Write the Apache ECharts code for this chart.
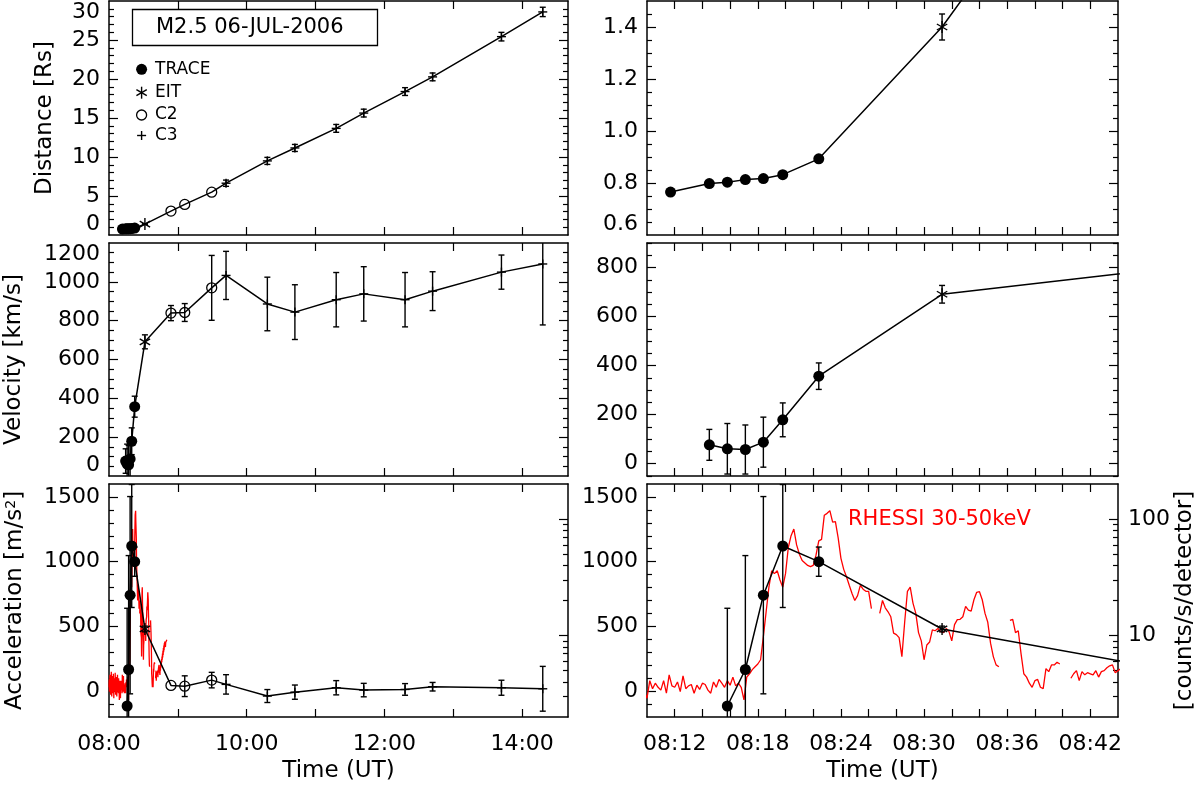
<!DOCTYPE html>
<html>
<head>
<meta charset="utf-8">
<title>M2.5 06-JUL-2006 CME kinematics</title>
<script src="https://cdn.jsdelivr.net/npm/echarts@6.0.0/dist/echarts.min.js"></script>
<style>
  html, body { margin: 0; padding: 0; background: #fff; }
  #chart { width: 1200px; height: 786px; }
</style>
</head>
<body>
<div id="chart"></div>
<script>
// all times are minutes after 08:00 UT

// TRACE
var traceT = [11.7, 14.5, 15.8, 17.1, 18.4, 19.8, 22.4];
var traceDist = [0.765, 0.798, 0.803, 0.813, 0.817, 0.832, 0.893];
var traceVelT = [14.5, 15.8, 17.1, 18.4, 19.8, 22.4];
var traceVel = [77, 61, 58, 88, 179, 357];
var traceVelErr = [63, 103, 100, 102, 69, 54];
var traceAccT = [15.8, 17.1, 18.4, 19.8, 22.4];
var traceAcc = [-115, 167, 741, 1121, 1000];
var traceAccErr = [755, 880, 762, 475, 113];

// EIT
var eitT = [31.3];
var eitDist = [1.40];
var eitDistErr = [0.05];
var eitVel = [691];
var eitVelErr = [36];
var eitAcc = [480];
var eitAccErr = [22];

// LASCO C2
var c2T = [54, 66, 89.5];
var c2Dist = [3.07, 3.92, 5.49];
var c2Vel = [839, 842, 969];
var c2VelErr = [39, 46, 167];
var c2Acc = [44, 38, 85];
var c2AccErr = [0, 80, 60];

// LASCO C3
var c3T = [102, 138, 162, 198, 222, 258, 282, 342, 378];
var c3Dist = [6.64, 9.5, 11.16, 13.67, 15.63, 18.39, 20.27, 25.43, 28.6];
var c3DistErr = [0.4, 0.45, 0.45, 0.5, 0.5, 0.5, 0.5, 0.55, 0.6];
var c3Vel = [1033, 886, 844, 908, 938, 908, 952, 1050, 1092];
var c3VelErr = [124, 138, 141, 140, 140, 140, 100, 88, 314];
var c3Acc = [52, -38, -8, 26, 8, 13, 34, 26, 18];
var c3AccErr = [75, 50, 55, 55, 52, 45, 33, 58, 173];

// RHESSI 30-50 keV, counts/s/detector, one sample every 0.2 min from 08:00
var rhessiStart = 0;
var rhessiStep = 0.2;
var rhessiCounts = [
  3.6, 4.2, 3.3, 3.9, 4.6, 3.4, 3.8, 3.1, 4.4, 3.7,      // 08:00
  4.9, 3.5, 3.0, 4.1, 3.6, 4.5, 3.2, 3.9, 3.4, 4.7,      // 08:02
  3.8, 2.9, 4.0, 3.5, 4.3, 3.3, 3.7, 4.8, 3.6, 3.1,      // 08:04
  4.2, 3.8, 3.4, 4.4, 3.0, 3.9, 3.5, 4.6, 3.3, 4.0,      // 08:06
  3.7, 3.2, 4.3, 3.6, 3.9, 2.8, 4.1, 3.5, 3.8, 3.3,      // 08:08
  2.9, 4.1, 3.5, 3.9, 3.6, 3.4, 4.1, 3.2, 4.6, 3.7,      // 08:10
  3.6, 4.0, 3.3, 4.5, 3.5, 3.7, 3.8, 3.2, 3.75, 3.45,    // 08:12
  3.9, 3.8, 3.4, 3.2, 4.0, 3.6, 4.2, 3.9, 3.6, 4.1,      // 08:14
  3.75, 4.4, 3.7, 3.9, 3.6, 2.8, 4.4, 4.7, 5.1, 5.4,     // 08:16
  5.7, 6.2, 9.8, 16, 26, 36, 34, 36, 30, 26,             // 08:18
  34, 57, 72, 82, 60, 50, 44, 42, 40, 39,                // 08:20
  40, 49, 65, 67, 108, 112, 118, 94, 95, 69,             // 08:22
  46, 37, 32, 27, 23, 20, 22, 27, 25, 24,                // 08:24
  24, 17, null, null, 15.5, 20, 17.3, 16, 14.5, 10.5,    // 08:26
  10.2, 9.6, 6.6, 13, 24, 26, 19, 15.6, 10.6, 9,         // 08:28
  6.2, 8.3, 8.8, 11.2, 11, 11.5, 10.8, 10.6, 11.5, 10.8, // 08:30
  9.0, 12.4, 13.7, 13.8, 14.5, 17.8, 16.5, 16.2, 20.3, 23.5, // 08:32
  23.8, 20.3, 15.5, 13, 8.6, 6.6, 5.6, 5.4, null, null,  // 08:34
  null, 13.5, 13.8, 10.6, 11, 7, 4.7, 4.4, 3.9, 3.6,     // 08:36
  4.1, 4.2, 3.6, 3.5, 5.2, 4.9, 5.6, 5.6, 5.9, 5.7,      // 08:38
  null, null, null, 4.3, 4.7, 5.0, 4.1, 4.9, 4.6, 4.8,   // 08:40
  4.7, 4.6, 5.0, 4.4, 4.9, 5.0, 5.3, 5.5, 5.6, 4.8,      // 08:42
  5.0, 5.2, 4.6, 5.4, 5.0, 5.8, 5.3, 6.0, 5.6, 6.3,      // 08:44
  5.9, 6.6, 6.2, 7.0, 6.5, 7.4, 6.8, 7.8, 7.2, 8.2,      // 08:46
  7.5, 8.6, 7.9, 8.9, 8.3, 8.8, 8.0, 8.7, 8.5, 9.0,      // 08:48
  8.4, 8.8, 9.2                                          // 08:50
];

// tick labels
var leftTimeLabels = [0, 120, 240, 360];
var rightTimeLabels = [12, 18, 24, 30, 36, 42];
var distLabels = [0, 5, 10, 15, 20, 25, 30];
var distZoomLabels = [0.6, 0.8, 1.0, 1.2, 1.4];
var velLabels = [0, 200, 400, 600, 800, 1000, 1200];
var velZoomLabels = [0, 200, 400, 600, 800];
var accLabels = [0, 500, 1000, 1500];
var countLabels = [10, 100];

var FONT = 'DejaVu Sans';

function steps(a, b, d) {
  var out = [];
  for (var v = a; v <= b + 1e-9; v += d) out.push(Math.round(v * 1e6) / 1e6);
  return out;
}
function without(arr, skip) {
  return arr.filter(function (v) {
    return !skip.some(function (s) { return Math.abs(s - v) < 1e-9; });
  });
}
function hhmm(v) {
  var h = 8 + Math.floor(v / 60 + 1e-9);
  var m = Math.round(v - (h - 8) * 60);
  return (h < 10 ? '0' : '') + h + ':' + (m < 10 ? '0' : '') + m;
}
function pts(T, V, E, kind) {
  return T.map(function (t, i) { return [t, V[i], E ? E[i] : 0, kind]; });
}

var distPts = [].concat(pts(traceT, traceDist, null, 0), pts(eitT, eitDist, eitDistErr, 1),
  pts(c2T, c2Dist, null, 2), pts(c3T, c3Dist, c3DistErr, 3));
var velPts = [].concat(pts(traceVelT, traceVel, traceVelErr, 0), pts(eitT, eitVel, eitVelErr, 1),
  pts(c2T, c2Vel, c2VelErr, 2), pts(c3T, c3Vel, c3VelErr, 3));
var accPts = [].concat(pts(traceAccT, traceAcc, traceAccErr, 0), pts(eitT, eitAcc, eitAccErr, 1),
  pts(c2T, c2Acc, c2AccErr, 2), pts(c3T, c3Acc, c3AccErr, 3));
var rhessi = rhessiCounts.map(function (c, i) { return [rhessiStart + i * rhessiStep, c]; });

var leftTime = { range: [0, 400], ticks: steps(60, 360, 60), labels: leftTimeLabels };
var rightTime = { range: [10, 44], ticks: steps(12, 42, 2), labels: rightTimeLabels };
var logRange = [Math.log10(2), Math.log10(200)];
var logMajor = [1, 2];
var logMinor = [3, 4, 5, 6, 7, 8, 9, 20, 30, 40, 50, 60, 70, 80, 90].map(Math.log10);

var panels = [
  { col: 0, row: 0, y: [0, 30], major: steps(5, 25, 5), minor: without(steps(1, 29, 1), steps(5, 25, 5)),
    labels: distLabels, fmt: function (v) { return String(v); }, name: 'Distance [Rs]', gap: 52,
    pts: distPts, alignMin: true, alignMax: true },
  { col: 1, row: 0, y: [0.6, 1.5], major: [0.8, 1.0, 1.2, 1.4], minor: without(steps(0.65, 1.45, 0.05), [0.8, 1.0, 1.2, 1.4]),
    labels: distZoomLabels, fmt: function (v) { return v.toFixed(1); }, pts: distPts, alignMin: true },
  { col: 0, row: 1, y: [0, 1200], major: steps(200, 1000, 200), minor: without(steps(50, 1150, 50), steps(200, 1000, 200)),
    labels: velLabels, fmt: function (v) { return String(v); }, name: 'Velocity [km/s]', gap: 83,
    pts: velPts, alignMin: true, alignMax: true },
  { col: 1, row: 1, y: [-50, 900], major: steps(0, 800, 200), minor: without(steps(-50, 900, 50), steps(0, 800, 200)),
    labels: velZoomLabels, fmt: function (v) { return String(v); }, pts: velPts },
  { col: 0, row: 2, y: [-200, 1600], major: steps(0, 1500, 500), minor: without(steps(-100, 1500, 100), steps(0, 1500, 500)),
    labels: accLabels, fmt: function (v) { return String(v); }, name: 'Acceleration [m/s{sup|2}]', gap: 82,
    pts: accPts, rhessi: true },
  { col: 1, row: 2, y: [-200, 1600], major: steps(0, 1500, 500), minor: without(steps(-100, 1500, 100), steps(0, 1500, 500)),
    labels: accLabels, fmt: function (v) { return String(v); }, pts: accPts, rhessi: true, countLabels: true }
];

var cols = [{ left: 109, width: 459 }, { left: 647, width: 471 }];
var rows = [{ top: 1, height: 234 }, { top: 243, height: 233 }, { top: 484, height: 233 }];

var black = { color: '#000', width: 1.5 };

function tickAxis(g, pos, range, ticks, len, line) {
  return {
    type: 'value', gridIndex: g, position: pos, min: range[0], max: range[1],
    axisLine: { show: line, onZero: false, lineStyle: black },
    axisTick: { show: true, inside: true, length: len, customValues: ticks, lineStyle: { color: '#000', width: 1.2 } },
    axisLabel: { show: false },
    splitLine: { show: false }
  };
}

function xAx(g, pos, time, labels) {
  var ax = tickAxis(g, pos, time.range, time.ticks, 8, true);
  if (labels) {
    ax.axisLabel = { show: true, customValues: time.labels, formatter: hhmm, margin: 16,
      fontSize: 22, fontFamily: FONT, color: '#000' };
    ax.name = 'Time (UT)';
    ax.nameLocation = 'middle';
    ax.nameGap = 43;
    ax.nameTextStyle = { fontSize: 23, fontFamily: FONT, color: '#000' };
  }
  return ax;
}

function mainY(g, p) {
  var ax = tickAxis(g, 'left', p.y, p.major, 9, true);
  ax.axisLabel = { show: true, customValues: p.labels, formatter: p.fmt, margin: 9,
    fontSize: 22, fontFamily: FONT, color: '#000' };
  if (p.alignMin) ax.axisLabel.verticalAlignMinLabel = 'bottom';
  if (p.alignMax) ax.axisLabel.verticalAlignMaxLabel = 'top';
  if (p.name) {
    ax.name = p.name;
    ax.nameLocation = 'middle';
    ax.nameRotate = 90;
    ax.nameGap = p.gap;
    ax.nameTextStyle = { fontSize: 23, fontFamily: FONT, color: '#000',
      rich: { sup: { fontSize: 14, fontFamily: FONT, color: '#000', verticalAlign: 'top' } } };
  }
  return ax;
}

function countAxis(g, labels) {
  var ax = {
    type: 'log', logBase: 10, gridIndex: g, position: 'right', min: 2, max: 200,
    axisLine: { show: false, onZero: false },
    axisTick: { show: false },
    splitLine: { show: false },
    axisLabel: { show: labels, margin: 10, fontSize: 22, fontFamily: FONT, color: '#000',
      showMinLabel: false, showMaxLabel: false,
      formatter: function (v) { return countLabels.indexOf(Math.round(v)) >= 0 ? String(Math.round(v)) : ''; } }
  };
  if (labels) {
    ax.name = '[counts/s/detector]';
    ax.nameLocation = 'middle';
    ax.nameRotate = 90;
    ax.nameGap = 56;
    ax.nameTextStyle = { fontSize: 23, fontFamily: FONT, color: '#000' };
  }
  return ax;
}

function symbolShapes(k, x, y) {
  var s = { stroke: '#000', lineWidth: 1.4 };
  function seg(x1, y1, x2, y2) { return { type: 'line', shape: { x1: x1, y1: y1, x2: x2, y2: y2 }, style: s }; }
  if (k === 0) return [{ type: 'circle', shape: { cx: x, cy: y, r: 5.5 }, style: { fill: '#000' } }];
  if (k === 2) return [{ type: 'circle', shape: { cx: x, cy: y, r: 5 }, style: { fill: 'none', stroke: '#000', lineWidth: 1.3 } }];
  if (k === 1) return [seg(x, y - 6, x, y + 6), seg(x - 5.2, y - 3, x + 5.2, y + 3), seg(x - 5.2, y + 3, x + 5.2, y - 3)];
  return [seg(x - 4.5, y, x + 4.5, y), seg(x, y - 4.5, x, y + 4.5)];
}

function renderPoint(params, api) {
  var t = api.value(0), v = api.value(1), e = api.value(2), k = api.value(3);
  var c = api.coord([t, v]);
  var s = { stroke: '#000', lineWidth: 1.4 };
  var kids = [];
  if (e > 0) {
    var hi = api.coord([t, v + e])[1], lo = api.coord([t, v - e])[1];
    kids.push({ type: 'line', shape: { x1: c[0], y1: hi, x2: c[0], y2: lo }, style: s });
    kids.push({ type: 'line', shape: { x1: c[0] - 3, y1: hi, x2: c[0] + 3, y2: hi }, style: s });
    kids.push({ type: 'line', shape: { x1: c[0] - 3, y1: lo, x2: c[0] + 3, y2: lo }, style: s });
  }
  return { type: 'group', children: kids.concat(symbolShapes(k, c[0], c[1])) };
}

var grid = [], xAxis = [], yAxis = [], series = [];
panels.forEach(function (p, g) {
  var box = cols[p.col], row = rows[p.row];
  grid.push({ left: box.left, top: row.top, width: box.width, height: row.height });
  var time = p.col === 0 ? leftTime : rightTime;
  var xi = xAxis.length;
  xAxis.push(xAx(g, 'bottom', time, p.row === 2));
  xAxis.push(xAx(g, 'top', time, false));
  var yi = yAxis.length;
  yAxis.push(mainY(g, p));
  yAxis.push(tickAxis(g, 'left', p.y, p.minor, 5, false));
  if (p.rhessi) {
    var li = yAxis.length;
    yAxis.push(countAxis(g, !!p.countLabels));
    yAxis.push(tickAxis(g, 'right', logRange, logMajor, 9, true));
    yAxis.push(tickAxis(g, 'right', logRange, logMinor, 5, false));
    series.push({ type: 'line', xAxisIndex: xi, yAxisIndex: li, data: rhessi, symbol: 'none',
      connectNulls: false, lineStyle: { color: '#ff0000', width: 1.3 }, z: 2, silent: true });
  } else {
    yAxis.push(tickAxis(g, 'right', p.y, p.major, 9, true));
    yAxis.push(tickAxis(g, 'right', p.y, p.minor, 5, false));
  }
  series.push({ type: 'line', xAxisIndex: xi, yAxisIndex: yi,
    data: p.pts.map(function (q) { return [q[0], q[1]]; }),
    symbol: 'none', lineStyle: { color: '#000', width: 1.5 }, z: 3, silent: true });
  series.push({ type: 'custom', xAxisIndex: xi, yAxisIndex: yi, coordinateSystem: 'cartesian2d',
    clip: true, renderItem: renderPoint, data: p.pts, z: 4, silent: true });
});

// title box, instrument key and RHESSI label
var keyX = 141.6;
var keyRows = [69.3, 92.7, 115, 135.5];
var keyNames = ['TRACE', 'EIT', 'C2', 'C3'];
var graphic = [
  { type: 'rect', shape: { x: 132.5, y: 9.5, width: 245, height: 36 },
    style: { fill: 'none', stroke: '#000', lineWidth: 1.3 } },
  { type: 'text', x: 156, y: 28, style: { text: 'M2.5 06-JUL-2006', fontSize: 21, fontFamily: FONT,
    fill: '#000', verticalAlign: 'middle' } },
  { type: 'text', x: 848, y: 520, style: { text: 'RHESSI 30-50keV', fontSize: 21, fontFamily: FONT,
    fill: '#ff0000', verticalAlign: 'middle' } }
];
keyRows.forEach(function (y, k) {
  symbolShapes(k, keyX, y).forEach(function (el) { graphic.push(el); });
  graphic.push({ type: 'text', x: 155, y: y, style: { text: keyNames[k], fontSize: 17, fontFamily: FONT,
    fill: '#000', verticalAlign: 'middle' } });
});

var chart = echarts.init(document.getElementById('chart'));
chart.setOption({
  animation: false,
  backgroundColor: '#fff',
  grid: grid,
  xAxis: xAxis,
  yAxis: yAxis,
  series: series,
  graphic: graphic
});
</script>
</body>
</html>
